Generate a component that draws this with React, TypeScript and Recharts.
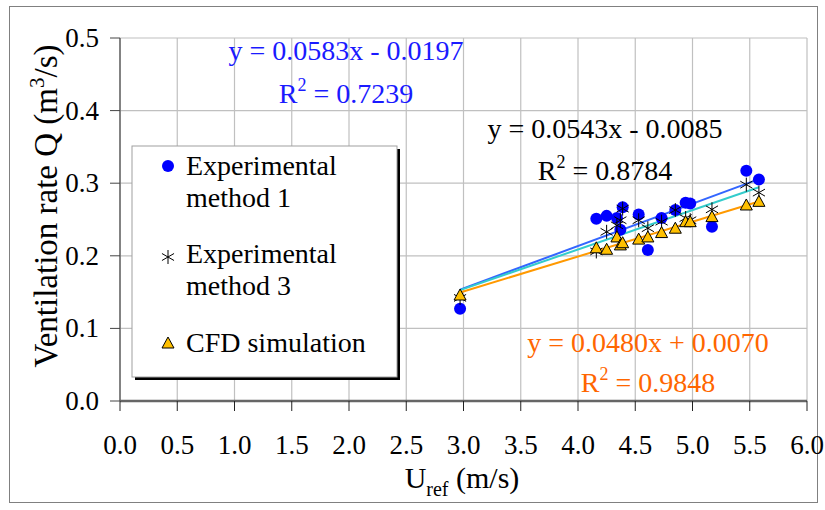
import React from 'react';
import { ScatterChart, Scatter, XAxis, YAxis, CartesianGrid, Customized } from 'recharts';

// ---- data ----
const uref = [2.97, 4.16, 4.25, 4.34, 4.37, 4.39, 4.53, 4.61, 4.73, 4.85, 4.94, 4.98, 5.17, 5.47, 5.58];
const method1 = [0.127, 0.251, 0.255, 0.252, 0.236, 0.267, 0.257, 0.208, 0.252, 0.263, 0.273, 0.272, 0.240, 0.317, 0.305];
const method3 = [0.142, 0.206, 0.233, 0.242, 0.249, 0.265, 0.249, 0.238, 0.247, 0.263, 0.252, 0.249, 0.264, 0.298, 0.287];
const cfd = [0.146, 0.211, 0.209, 0.226, 0.215, 0.218, 0.223, 0.226, 0.232, 0.238, 0.247, 0.247, 0.254, 0.270, 0.275];

const seriesNames = ['Experimental method 1', 'Experimental method 3', 'CFD simulation'];
const trendSlopes = [0.0583, 0.0543, 0.048];
const trendIntercepts = [-0.0197, -0.0085, 0.007];
const trendR2 = [0.7239, 0.8784, 0.9848];

const xTicks = [0, 0.5, 1, 1.5, 2, 2.5, 3, 3.5, 4, 4.5, 5, 5.5, 6];
const yTicks = [0, 0.1, 0.2, 0.3, 0.4, 0.5];

// ---- derived tables ----
const toPoints = (ys: number[]) => uref.map((x, i) => ({ x, y: ys[i] }));
const m1Data = toPoints(method1);
const m3Data = toPoints(method3);
const cfdData = toPoints(cfd);
const xMin = Math.min(...uref);
const xMax = Math.max(...uref);
const trendData = trendSlopes.map((s, i) => [
  { x: xMin, y: s * xMin + trendIntercepts[i] },
  { x: xMax, y: s * xMax + trendIntercepts[i] },
]);

const FONT = '"Liberation Serif", "DejaVu Serif", serif';
const serif = { fontFamily: FONT };
const BLUE_TXT = '#1a1aff';
const ORANGE_TXT = '#ff6600';

const Circle = (p: any) => <circle cx={p.cx} cy={p.cy} r={6} fill="#0000ff" />;
const Star = (p: any) => {
  const { cx, cy } = p;
  const r = 7;
  const dx = r * Math.sin(Math.PI / 3);
  const dy = r * Math.cos(Math.PI / 3);
  return (
    <g stroke="#000" strokeWidth={1}>
      <line x1={cx} y1={cy - r} x2={cx} y2={cy + r} />
      <line x1={cx - dx} y1={cy - dy} x2={cx + dx} y2={cy + dy} />
      <line x1={cx - dx} y1={cy + dy} x2={cx + dx} y2={cy - dy} />
    </g>
  );
};
const Tri = (p: any) => {
  const { cx, cy } = p;
  return (
    <polygon
      points={`${cx},${cy - 6} ${cx - 6},${cy + 5} ${cx + 6},${cy + 5}`}
      fill="#ffc000"
      stroke="#000"
      strokeWidth={1}
    />
  );
};
const NoShape = () => null;

const XTick = (p: any) => (
  <text x={p.x} y={p.y + 41} textAnchor="middle" style={serif} fontSize={27} fill="#000">
    {Number(p.payload.value).toFixed(1)}
  </text>
);
const YTick = (p: any) => (
  <text x={p.x - 9} y={p.y + 9} textAnchor="end" style={serif} fontSize={27} fill="#000">
    {Number(p.payload.value).toFixed(1)}
  </text>
);

const Equation = ({ i, cx, y1, y2, color }: any) => {
  const s = trendSlopes[i];
  const b = trendIntercepts[i];
  const eq = `y = ${s.toFixed(4)}x ${b < 0 ? '-' : '+'} ${Math.abs(b).toFixed(4)}`;
  return (
    <g style={serif} fontSize={28} fill={color}>
      <text x={cx} y={y1} textAnchor="middle" style={serif}>{eq}</text>
      <text x={cx} y={y2} textAnchor="middle" style={serif}>
        R<tspan dy={-12} fontSize={18}>2</tspan>
        <tspan dy={12}> = {trendR2[i].toFixed(4)}</tspan>
      </text>
    </g>
  );
};

const Decorations = () => (
  <g>
    {/* outer frame */}
    <rect x={9.5} y={6.5} width={808} height={496} fill="none" stroke="#808080" strokeWidth={1} />
    {/* trend equations */}
    <Equation i={0} cx={346} y1={60} y2={103} color={BLUE_TXT} />
    <Equation i={1} cx={605} y1={138} y2={180} color="#000" />
    <Equation i={2} cx={648} y1={352} y2={392} color={ORANGE_TXT} />
    {/* axis titles */}
    <text x={462} y={488} textAnchor="middle" style={serif} fontSize={30} fill="#000">
      U<tspan dy={8} fontSize={20}>ref</tspan>
      <tspan dy={-8}> (m/s)</tspan>
    </text>
    <text
      transform="translate(57,206) rotate(-90)"
      textAnchor="middle"
      style={serif}
      fontSize={33}
      fill="#000"
    >
      Ventilation rate Q (m<tspan dy={-13} fontSize={21}>3</tspan>
      <tspan dy={13}>/s)</tspan>
    </text>
    {/* legend */}
    <rect x={135} y={149} width={265} height={231} fill="#000" />
    <rect x={132} y={146} width={265} height={231} fill="#fff" stroke="#a0a0a0" strokeWidth={1} />
    <Circle cx={168} cy={166} />
    <Star cx={168} cy={257} />
    <Tri cx={168} cy={343} />
    <g style={serif} fontSize={28} fill="#000">
      <text x={186} y={175}>Experimental</text>
      <text x={186} y={207}>method 1</text>
      <text x={186} y={263}>Experimental</text>
      <text x={186} y={295}>method 3</text>
      <text x={186} y={352}>CFD simulation</text>
    </g>
  </g>
);

export default function App() {
  return (
    <div style={{ position: 'absolute', left: 0, top: 0, width: 825, height: 510, background: '#fff', fontFamily: FONT }}>
      <ScatterChart width={825} height={510} margin={{ top: 38, right: 18, bottom: 49, left: 40 }} style={serif}>
        <CartesianGrid stroke="#c0c0c0" strokeWidth={1.2} />
        <XAxis
          type="number"
          dataKey="x"
          domain={[0, 6]}
          ticks={xTicks}
          interval={0}
          height={60}
          tickSize={10}
          tickMargin={2}
          tick={<XTick />}
          axisLine={{ stroke: '#666', strokeWidth: 2.5 }}
          tickLine={{ stroke: '#222', strokeWidth: 1 }}
        />
        <YAxis
          type="number"
          dataKey="y"
          domain={[0, 0.5]}
          ticks={yTicks}
          interval={0}
          width={80}
          tickSize={10}
          tickMargin={2}
          tick={<YTick />}
          axisLine={{ stroke: '#666', strokeWidth: 1.5 }}
          tickLine={{ stroke: '#444', strokeWidth: 1 }}
        />
        <Scatter name="trend1" data={trendData[0]} line={{ stroke: '#3366ff', strokeWidth: 2 }} shape={<NoShape />} isAnimationActive={false} />
        <Scatter name="trend3" data={trendData[1]} line={{ stroke: '#33cccc', strokeWidth: 2 }} shape={<NoShape />} isAnimationActive={false} />
        <Scatter name="trendCfd" data={trendData[2]} line={{ stroke: '#ff9900', strokeWidth: 2 }} shape={<NoShape />} isAnimationActive={false} />
        <Scatter name={seriesNames[0]} data={m1Data} shape={<Circle />} isAnimationActive={false} />
        <Scatter name={seriesNames[1]} data={m3Data} shape={<Star />} isAnimationActive={false} />
        <Scatter name={seriesNames[2]} data={cfdData} shape={<Tri />} isAnimationActive={false} />
        <Customized component={<Decorations />} />
      </ScatterChart>
    </div>
  );
}
